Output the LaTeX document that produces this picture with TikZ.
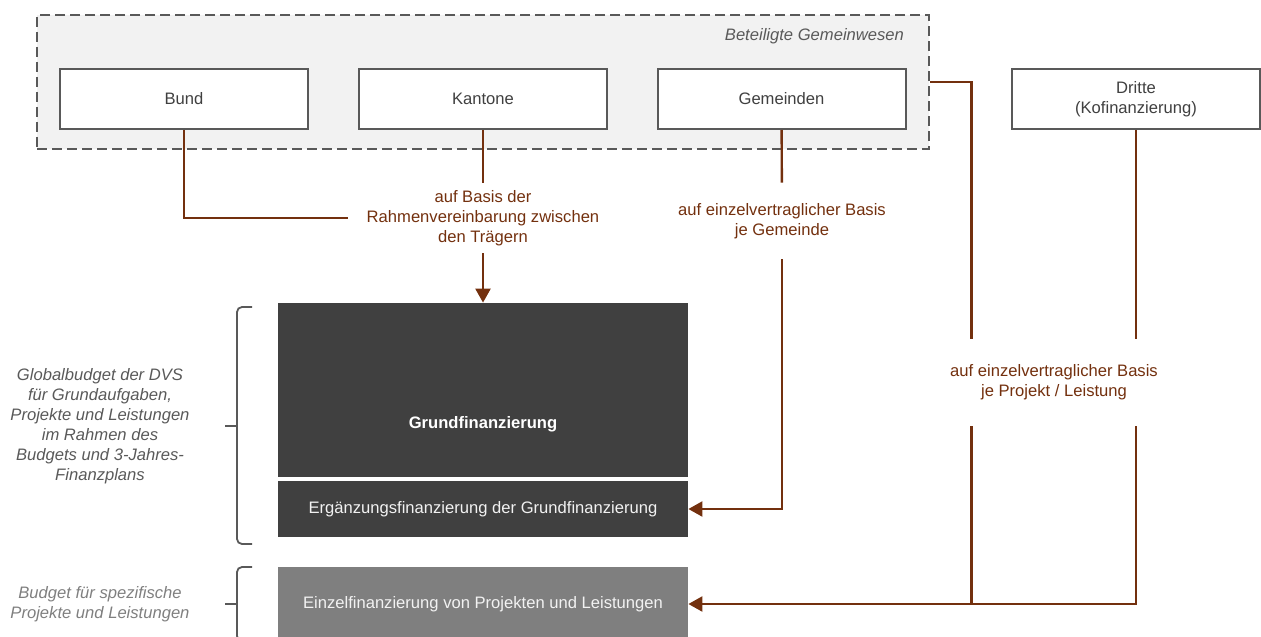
\documentclass[tikz,border=0pt]{standalone}
\usepackage{fontspec}
\setmainfont{Liberation Sans}
\usetikzlibrary{arrows.meta,positioning}
\definecolor{braun}{RGB}{115,48,14}
\definecolor{rahmengrau}{RGB}{89,89,89}
\definecolor{dunkel}{RGB}{64,64,64}
\definecolor{mittel}{RGB}{127,127,127}
\definecolor{hell}{RGB}{242,242,242}
\newcommand{\schrift}{\fontsize{8.3}{10}\selectfont}
\tikzstyle{gruppe} = [draw=rahmengrau, fill=hell, line width=1pt, dash pattern=on 5pt off 2.5pt, minimum width=446pt, minimum height=67pt]
\tikzstyle{traeger} = [draw=rahmengrau, fill=white, line width=1pt, minimum width=124pt, minimum height=30pt, text=dunkel, align=center, inner sep=0pt]
\tikzstyle{finblock} = [fill=dunkel, minimum width=205pt, text=hell, inner sep=0pt]
\tikzstyle{etikett} = [text=braun, align=center, inner xsep=9pt, inner ysep=0pt]
\tikzstyle{fluss} = [draw=braun, line width=1.2pt]
\tikzstyle{pfeil} = [fluss, -{Triangle[length=7pt,width=7.5pt]}]
\tikzstyle{klammer} = [draw=rahmengrau, line width=0.9pt, rounded corners=2.5pt]
\tikzstyle{seitentext} = [align=center]

\begin{document}
\begin{tikzpicture}[x=0.5pt, y=-0.5pt, every node/.style={font=\schrift}]
\useasboundingbox (0,0) rectangle (1261,636);
% Gemeinwesen
\node[gruppe] (gemeinwesen) at (483,82) {};
\node[anchor=east, text=rahmengrau, font=\schrift\itshape] (titel) at (911,36) {Beteiligte Gemeinwesen};
\node[traeger] (bund) at (184,99) {Bund};
\node[traeger] (kantone) at (483,99) {Kantone};
\node[traeger] (gemeinden) at (781.5,99) {Gemeinden};
\node[traeger] (dritte) at (1136,99) {Dritte\\(Kofinanzierung)};

% Finanzierung
\node[finblock, minimum height=87pt, text height=40pt, text depth=2pt, font=\schrift\bfseries, text=white] (grund) at (483,390) {Grundfinanzierung};
\node[finblock, minimum height=28pt] (ergaenz) at (483,509) {Erg\"anzungsfinanzierung der Grundfinanzierung};
\node[finblock, fill=mittel, minimum height=37pt] (einzel) at (483,604) {Einzelfinanzierung von Projekten und Leistungen};

% Beschriftungen
\node[etikett, minimum height=35pt] (rahmen) at (483,218) {auf Basis der\\Rahmenvereinbarung zwischen\\den Tr\"agern};
\node[etikett, minimum height=38pt] (gemlbl) at (782,221) {auf einzelvertraglicher Basis\\je Gemeinde};
\node[etikett, minimum height=43.5pt] (projlbl) at (1054,382.5) {auf einzelvertraglicher Basis\\je Projekt / Leistung};
\coordinate (knick) at (971.5,82);

% Fluesse
\draw[fluss] (bund) |- (rahmen.west);
\draw[fluss] (kantone) -- (rahmen);
\draw[pfeil] (rahmen) -- (grund);
\draw[fluss] (gemeinden) -- (gemlbl);
\draw[pfeil] (gemlbl) |- (ergaenz.east);
\draw[fluss] (gemeinwesen.east) -- (knick) -- (knick |- projlbl.north);
\draw[fluss] (dritte) -- (dritte |- projlbl.north);
\draw[fluss] (knick |- projlbl.south) -- (knick |- einzel.east);
\draw[pfeil] (dritte |- projlbl.south) |- (einzel.east);

% Klammern
\draw[klammer] (252,307) -- (237,307) -- (237,544) -- (252,544);
\draw[klammer] (237,426) -- (225,426);
\draw[klammer] (252,567) -- (237,567) -- (237,641) -- (252,641);
\draw[klammer] (237,604) -- (225,604);
\node[seitentext, text=rahmengrau, font=\schrift\itshape] (global) at (100,426) {Globalbudget der DVS\\f\"ur Grundaufgaben,\\Projekte und Leistungen\\im Rahmen des\\Budgets und 3-Jahres-\\Finanzplans};
\node[seitentext, text=mittel, font=\schrift\itshape] (spezial) at (100,604.5) {Budget f\"ur spezifische\\Projekte und Leistungen};
\end{tikzpicture}
\end{document}
